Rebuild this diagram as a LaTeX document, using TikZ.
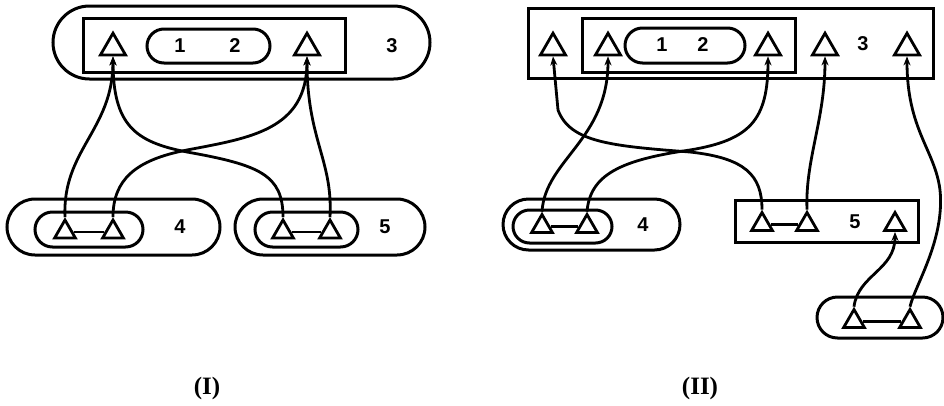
\documentclass[tikz,border=0pt]{standalone}
\usepackage{fontspec}
\setmainfont{Liberation Sans}
\newfontfamily\lblfont{Liberation Serif}
\usetikzlibrary{shapes.geometric,shapes.misc,arrows.meta}
\begin{document}
\begin{tikzpicture}[x=1pt,y=-1pt,
  box/.style={draw,line width=3pt,rectangle,inner sep=0pt,minimum width=#1},
  pillbox/.style={draw,line width=3pt,rounded rectangle,inner sep=0pt,minimum width=#1},
  bigtri/.style={draw,line width=2.8pt,regular polygon,regular polygon sides=3,minimum size=29pt,inner sep=0pt},
  smalltri/.style={draw,line width=2.8pt,regular polygon,regular polygon sides=3,minimum size=24pt,inner sep=0pt},
  num/.style={font=\bfseries\fontsize{20}{22}\selectfont,inner sep=0pt},
  lbl/.style={font=\lblfont\bfseries\fontsize{25}{27}\selectfont,inner sep=0pt},
  wire/.style={line width=2.8pt},
  arr/.style={line width=2.8pt,-{Stealth[length=9pt,width=7pt]}}
]
\useasboundingbox (0,0) rectangle (944,405);

% ---------------- Panel I ----------------
\node[pillbox=377pt,minimum height=73pt] (Iout) at (241.5,42.5) {};
\node[box=262pt,minimum height=54pt] (Iin) at (214,45) {};
\node[pillbox=123pt,minimum height=34pt] (Ip) at (208.5,46) {};
\node[num] (I1) at (180,46) {1};
\node[num] (I2) at (235,46) {2};
\node[num] (I3) at (392,46) {3};
\node[bigtri] (It1) at (113,47.7) {};
\node[bigtri] (It2) at (307,47.7) {};

\node[pillbox=213pt,minimum height=56pt] (I4o) at (113.5,227) {};
\node[pillbox=108pt,minimum height=35pt] (I4i) at (89,229.5) {};
\node[smalltri] (Ia) at (65,232) {};
\node[smalltri] (Ib) at (113,232) {};
\node[num] (I4) at (180,227) {4};

\node[pillbox=190pt,minimum height=56pt] (I5o) at (330,227) {};
\node[pillbox=103pt,minimum height=35pt] (I5i) at (306.5,229.5) {};
\node[smalltri] (Ic) at (283,232) {};
\node[smalltri] (Id) at (330,232) {};
\node[num] (I5) at (385,227) {5};

\draw[wire] (Ia.east) -- (Ib.west);
\draw[wire] (Ic.east) -- (Id.west);

\draw[arr] (Ia.north) .. controls (62,150) and (113,130) .. (It1.south);
\draw[arr] (Ic.north) .. controls (283,175) and (260,165) .. (187,152) .. controls (135,142) and (113,125) .. (It1.south);
\draw[arr] (Ib.north) .. controls (113,180) and (135,160) .. (187,150) .. controls (250,138) and (307,130) .. (It2.south);
\draw[arr] (Id.north) .. controls (333,160) and (307,140) .. (It2.south);

\node[lbl] (LI) at (207,388) {(I)};

% ---------------- Panel II ----------------
\node[box=405pt,minimum height=70pt] (IIout) at (730.5,43) {};
\node[box=213pt,minimum height=54pt] (IIin) at (688.5,45) {};
\node[pillbox=120pt,minimum height=35pt] (IIp) at (685,45.5) {};
\node[num] (II1) at (662,45) {1};
\node[num] (II2) at (703,45) {2};
\node[num] (II3) at (863,44) {3};
\node[bigtri] (IIt1) at (553,47.7) {};
\node[bigtri] (IIt2) at (608,47.7) {};
\node[bigtri] (IIt3) at (768,47.7) {};
\node[bigtri] (IIt4) at (825,47.7) {};
\node[bigtri] (IIt5) at (907,47.7) {};

\node[pillbox=177pt,minimum height=51pt] (II4o) at (591.5,224.5) {};
\node[pillbox=99pt,minimum height=33pt] (II4i) at (562.5,226.5) {};
\node[smalltri] (IIa) at (542,226.5) {};
\node[smalltri] (IIb) at (587,226.5) {};
\node[num] (II4) at (643,225) {4};

\node[box=183pt,minimum height=42pt] (II5o) at (826.5,221) {};
\node[smalltri] (IIc) at (762,224.5) {};
\node[smalltri] (IId) at (807,224.5) {};
\node[smalltri] (IIe) at (895,224.5) {};
\node[num] (II5) at (855,222) {5};

\node[pillbox=126pt,minimum height=41pt] (II6o) at (880,317.5) {};
\node[smalltri] (IIf) at (854,321.5) {};
\node[smalltri] (IIg) at (910,321.5) {};

\draw[wire] (IIa.east) -- (IIb.west);
\draw[wire] (IIc.east) -- (IId.west);
\draw[wire] (IIf.east) -- (IIg.west);

\draw[arr] (IIc.north) .. controls (762,175) and (745,158) .. (690,152) .. controls (610,146) and (570,142) .. (558,110) -- (IIt1.south);
\draw[arr] (IIa.north) .. controls (545,160) and (608,140) .. (IIt2.south);
\draw[arr] (IIb.north) .. controls (590,175) and (620,160) .. (690,150) .. controls (750,140) and (768,120) .. (IIt3.south);
\draw[arr] (IId.north) .. controls (805,160) and (825,120) .. (IIt4.south);
\draw[arr] (IIg.north) .. controls (915,285) and (945,240) .. (940,190) .. controls (935,150) and (907,130) .. (IIt5.south);
\draw[arr] (IIf.north) .. controls (858,275) and (895,270) .. (IIe.south);

\node[lbl] (LII) at (700,388) {(II)};
\end{tikzpicture}
\end{document}
